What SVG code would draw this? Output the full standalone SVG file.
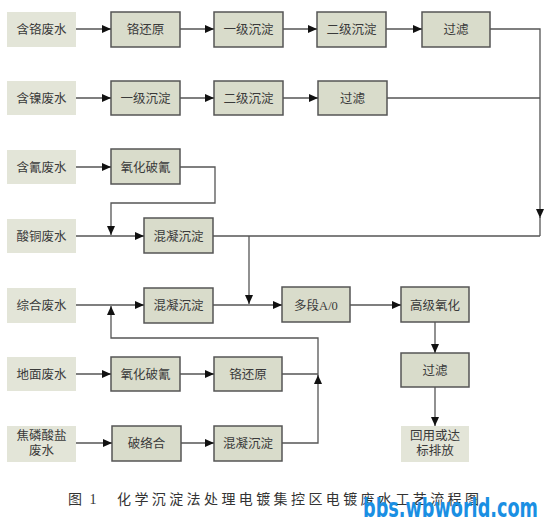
<svg xmlns="http://www.w3.org/2000/svg" width="544" height="524" viewBox="0 0 544 524">
<defs>
<style>
.src{fill:#e3e5d8;stroke:none}
.proc{fill:#d9dccb;stroke:#555;stroke-width:1.5}
.t{font-family:"Liberation Serif","Noto Sans CJK SC",serif;font-size:12.5px;fill:#3a3a3a;text-anchor:middle}
.ln{fill:none;stroke:#555;stroke-width:1.3}
.cap{font-family:"Liberation Serif","Noto Sans CJK SC",serif;font-size:14px;fill:#333}
.wm{font-family:"DejaVu Sans Condensed","DejaVu Sans",sans-serif;font-weight:bold;font-size:26px;fill:#1a8fe3}
</style>
<marker id="ah" markerWidth="10" markerHeight="8" refX="9" refY="4" orient="auto" markerUnits="userSpaceOnUse">
<path d="M0,0 L9,4 L0,8 Z" fill="#111"/>
</marker>
</defs>
<rect width="544" height="524" fill="#ffffff"/>

<g id="n-gesrc"><rect class="src" x="7" y="12" width="69" height="35"/><text class="t" x="41.5" y="34">含铬废水</text></g>
<g id="n-ge1"><rect class="proc" x="111" y="12" width="69" height="35"/><text class="t" x="145.5" y="34">铬还原</text></g>
<g id="n-ge2"><rect class="proc" x="214" y="12" width="69" height="35"/><text class="t" x="248.5" y="34">一级沉淀</text></g>
<g id="n-ge3"><rect class="proc" x="317" y="12" width="69" height="35"/><text class="t" x="351.5" y="34">二级沉淀</text></g>
<g id="n-ge4"><rect class="proc" x="422" y="12" width="68" height="35"/><text class="t" x="456" y="34">过滤</text></g>

<g id="n-niesrc"><rect class="src" x="7" y="81" width="69" height="34"/><text class="t" x="41.5" y="102.5">含镍废水</text></g>
<g id="n-nie1"><rect class="proc" x="111" y="81" width="69" height="34"/><text class="t" x="145.5" y="102.5">一级沉淀</text></g>
<g id="n-nie2"><rect class="proc" x="214" y="81" width="69" height="34"/><text class="t" x="248.5" y="102.5">二级沉淀</text></g>
<g id="n-nie3"><rect class="proc" x="318" y="81" width="69" height="34"/><text class="t" x="352.5" y="102.5">过滤</text></g>

<g id="n-qingsrc"><rect class="src" x="7" y="150" width="69" height="34"/><text class="t" x="41.5" y="171.5">含氰废水</text></g>
<g id="n-qing1"><rect class="proc" x="111" y="149" width="69" height="35"/><text class="t" x="145.5" y="171.5">氧化破氰</text></g>

<g id="n-tongsrc"><rect class="src" x="7" y="219" width="69" height="34"/><text class="t" x="41.5" y="240.5">酸铜废水</text></g>
<g id="n-tong1"><rect class="proc" x="144" y="218" width="69" height="35"/><text class="t" x="178.5" y="240.5">混凝沉淀</text></g>

<g id="n-zhsrc"><rect class="src" x="7" y="288" width="69" height="35"/><text class="t" x="41.5" y="309.5">综合废水</text></g>
<g id="n-zh1"><rect class="proc" x="144" y="288" width="69" height="35"/><text class="t" x="178.5" y="309.5">混凝沉淀</text></g>
<g id="n-ao"><rect class="proc" x="282" y="287" width="68" height="35"/><text class="t" x="316" y="309.5">多段A/0</text></g>
<g id="n-gjyh"><rect class="proc" x="401" y="287" width="68" height="35"/><text class="t" x="435" y="309.5">高级氧化</text></g>
<g id="n-gl"><rect class="proc" x="401" y="353" width="68" height="34"/><text class="t" x="435" y="374.5">过滤</text></g>
<g id="n-out"><rect class="src" x="401" y="426" width="68" height="36"/><text class="t" x="435" y="440">回用或达</text><text class="t" x="435" y="455">标排放</text></g>

<g id="n-dmsrc"><rect class="src" x="7" y="357" width="69" height="34"/><text class="t" x="41.5" y="378.5">地面废水</text></g>
<g id="n-dm1"><rect class="proc" x="111" y="357" width="69" height="34"/><text class="t" x="145.5" y="378.5">氧化破氰</text></g>
<g id="n-dm2"><rect class="proc" x="214" y="357" width="68" height="34"/><text class="t" x="248" y="378.5">铬还原</text></g>

<g id="n-jlsrc"><rect class="src" x="7" y="426" width="69" height="36"/><text class="t" x="41.5" y="440">焦磷酸盐</text><text class="t" x="41.5" y="455">废水</text></g>
<g id="n-jl1"><rect class="proc" x="112" y="426" width="69" height="35"/><text class="t" x="146.5" y="448">破络合</text></g>
<g id="n-jl2"><rect class="proc" x="214" y="426" width="68" height="35"/><text class="t" x="248" y="448">混凝沉淀</text></g>

<g id="connectors">
<line class="ln" x1="76" y1="29" x2="111" y2="29" marker-end="url(#ah)"/>
<line class="ln" x1="180" y1="29" x2="214" y2="29" marker-end="url(#ah)"/>
<line class="ln" x1="283" y1="29" x2="317" y2="29" marker-end="url(#ah)"/>
<line class="ln" x1="386" y1="29" x2="422" y2="29" marker-end="url(#ah)"/>
<path class="ln" d="M490,29 H540 V218" marker-end="url(#ah)"/>
<path class="ln" d="M540,216 V236"/>

<line class="ln" x1="76" y1="98" x2="111" y2="98" marker-end="url(#ah)"/>
<line class="ln" x1="180" y1="98" x2="214" y2="98" marker-end="url(#ah)"/>
<line class="ln" x1="283" y1="98" x2="318" y2="98" marker-end="url(#ah)"/>
<line class="ln" x1="387" y1="98" x2="540" y2="98"/>

<line class="ln" x1="76" y1="167" x2="111" y2="167" marker-end="url(#ah)"/>
<path class="ln" d="M180,167 H215 V203 H111 V235" marker-end="url(#ah)"/>

<line class="ln" x1="76" y1="236" x2="144" y2="236" marker-end="url(#ah)"/>
<line class="ln" x1="213" y1="236" x2="540" y2="236"/>
<line class="ln" x1="249" y1="236" x2="249" y2="304" marker-end="url(#ah)"/>

<line class="ln" x1="76" y1="305" x2="144" y2="305" marker-end="url(#ah)"/>
<line class="ln" x1="213" y1="305" x2="282" y2="305" marker-end="url(#ah)"/>
<line class="ln" x1="350" y1="305" x2="401" y2="305" marker-end="url(#ah)"/>
<line class="ln" x1="435" y1="322" x2="435" y2="353" marker-end="url(#ah)"/>
<line class="ln" x1="435" y1="387" x2="435" y2="426" marker-end="url(#ah)"/>

<line class="ln" x1="76" y1="374" x2="111" y2="374" marker-end="url(#ah)"/>
<line class="ln" x1="180" y1="374" x2="214" y2="374" marker-end="url(#ah)"/>
<line class="ln" x1="282" y1="374" x2="318" y2="374"/>

<line class="ln" x1="76" y1="443" x2="112" y2="443" marker-end="url(#ah)"/>
<line class="ln" x1="181" y1="443" x2="214" y2="443" marker-end="url(#ah)"/>
<path class="ln" d="M282,443 H318 V375" marker-end="url(#ah)"/>
<path class="ln" d="M318,376 V338 H111 V306" marker-end="url(#ah)"/>
</g>

<text class="cap" x="68" y="504" letter-spacing="2">图 1</text>
<text class="cap" x="117" y="504" letter-spacing="3.4">化学沉淀法处理电镀集控区电镀废水工艺流程图</text>
<text class="wm" x="363" y="517" textLength="175" lengthAdjust="spacingAndGlyphs">bbs.wbworld.com</text>
</svg>
